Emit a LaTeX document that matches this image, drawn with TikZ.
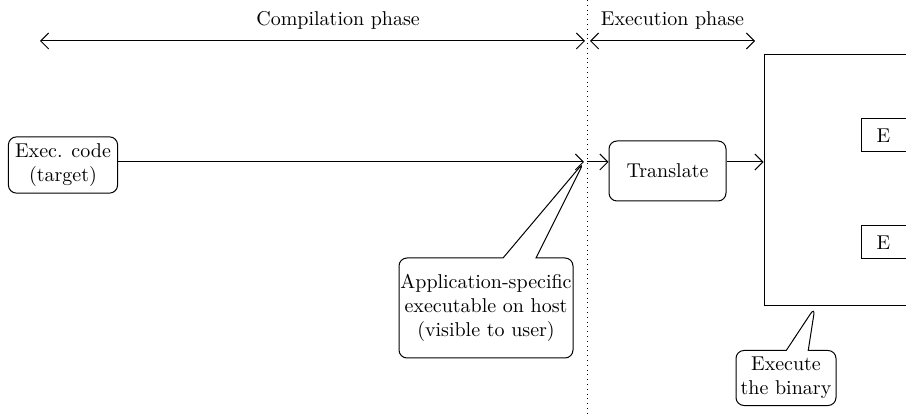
\documentclass[tikz,border=0pt]{standalone}
\usepackage{tikz}
\usetikzlibrary{arrows.meta, positioning, shapes.callouts}

\begin{document}
\begin{tikzpicture}[
      x=0.5pt, y=-0.5pt,
      line width=0.5pt,
      roundbox/.style={draw, rounded corners=4pt, align=center},
      plainbox/.style={draw, anchor=west, inner xsep=7.5pt, text width=25pt, align=left, minimum height=16.5pt},
      note/.style={draw, rectangle callout, rounded corners=4pt, align=center, inner xsep=0pt},
      arrow/.style={-{Straight Barb[length=4pt, width=8pt]}},
      span/.style={{Straight Barb[length=4pt, width=8pt]}-{Straight Barb[length=4pt, width=8pt]}},
      every node/.style={font=\normalsize}
    ]
    \path[use as bounding box, clip] (0,0) rectangle (906,416);

    % Coordinates
    \coordinate (divtop) at (587,0);
    \coordinate (divbot) at (587,416);
    \coordinate (mid) at (587,162);
    \coordinate (tip) at (584,162);
    \coordinate (bintip) at (815,307);
    \coordinate (cstart) at (40,41);
    \coordinate (cend) at (585,41);
    \coordinate (estart) at (590,41);
    \coordinate (eend) at (755,41);

    % Nodes
    \node[roundbox, minimum width=54pt, minimum height=24.5pt] (exec) at (63,165) {Exec. code\\(target)};
    \node[roundbox, minimum width=58.5pt, minimum height=30pt] (translate) at (667.5,171) {Translate};
    \node[draw, minimum width=83pt, minimum height=125.5pt] (machine) at (847,180.5) {};
    \node[plainbox] (eone) at (861,135.5) {E};
    \node[plainbox] (etwo) at (861,242.5) {E};
    \node[note, minimum width=87pt, minimum height=50pt, callout absolute pointer={(tip)},
          callout pointer width=16.5pt] (appnote) at (486,308)
          {Application-specific\\executable on host\\(visible to user)};
    \node[note, minimum width=50pt, minimum height=26pt, callout absolute pointer={(bintip)},
          callout pointer width=11pt] (binnote) at (786,378) {Execute\\the binary};

    % Phases
    \draw[dotted, line width=0.4pt] (divtop) -- (divbot);
    \draw[span] (cstart) -- node[pos=0.547, above=2pt] {Compilation phase} (cend);
    \draw[span] (estart) -- node[above=2pt] {Execution phase} (eend);

    % Arrows
    \draw[arrow] (exec.east |- mid) -- (tip);
    \draw[arrow] (mid) -- (translate.west |- mid);
    \draw[arrow] (translate.east |- mid) -- (machine.west |- mid);

    \end{tikzpicture}
\end{document}
